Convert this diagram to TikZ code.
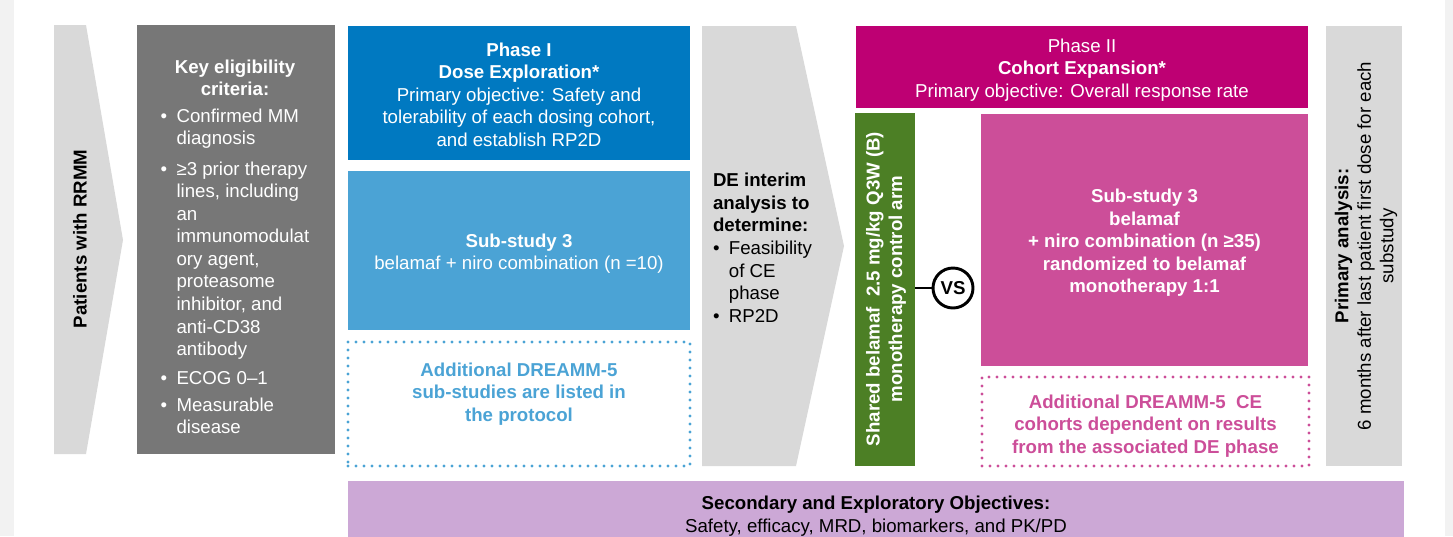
\documentclass[tikz,border=0pt]{standalone}
\usepackage{fontspec}
\setmainfont{Liberation Sans}

\definecolor{chevgray}{HTML}{D9D9D9}
\definecolor{critgray}{HTML}{777777}
\definecolor{stripgray}{HTML}{F2F2F2}
\definecolor{deblue}{HTML}{0079C1}
\definecolor{subblue}{HTML}{4BA3D5}
\definecolor{cemagenta}{HTML}{BE0073}
\definecolor{cepink}{HTML}{CC4E99}
\definecolor{armgreen}{HTML}{4C7F25}
\definecolor{seclilac}{HTML}{CCA8D6}

\tikzset{
  txt/.style={font=\fontsize{14}{16.9}\selectfont, inner sep=0pt, outer sep=0pt, align=center},
  btxt/.style={txt, font=\fontsize{14}{16.9}\selectfont\bfseries},
  blk/.style 2 args={minimum width=#1*0.75pt, minimum height=#2*0.75pt},
  panel/.style={inner sep=0pt, outer sep=0pt, fill=#1},
  dotbox/.style={draw=#1, line width=2.5pt, line cap=round, dash pattern=on 0pt off 6pt, inner sep=0pt},
}

\begin{document}
\begin{tikzpicture}[x=0.75pt, y=-0.75pt]
\useasboundingbox (0,0) rectangle (1453,536);
\fill[stripgray] (0,0) rectangle (14,536);
\fill[stripgray] (1445,0) rectangle (1453,536);

% entry chevron and eligibility
\fill[chevgray] (54,25) -- (86,25) -- (123,240) -- (86,454) -- (54,454) -- cycle;
\node[btxt, rotate=90] (pts) at (80,239) {Patients with RRMM};
\node[panel=critgray, blk={198}{429}] (elig) at (236,239.5) {};
\node[txt, text=white] (crit) at (235,249) {%
  \begin{tabular}{@{}l@{\hspace{7pt}}l@{}}
  \multicolumn{2}{@{}c@{}}{\bfseries Key eligibility}\\
  \multicolumn{2}{@{}c@{}}{\bfseries criteria:}\\[3pt]
  • & Confirmed MM\\
    & diagnosis\\[6pt]
  • & ≥3 prior therapy\\
    & lines, including\\
    & an\\
    & immunomodulat\\
    & ory agent,\\
    & proteasome\\
    & inhibitor, and\\
    & anti-CD38\\
    & antibody\\[5pt]
  • & ECOG 0–1\\[3pt]
  • & Measurable\\
    & disease
  \end{tabular}};

% dose exploration column
\node[panel=deblue, blk={342}{134}] (dose) at (519,93) {};
\node[txt, text=white] (dosetxt) at (519,94.5)
  {\textbf{Phase I}\\\textbf{Dose Exploration*}\\Primary objective: Safety and\\tolerability of each dosing cohort,\\and establish RP2D};
\node[panel=subblue, blk={342}{159}] (sub3) at (519,250.5) {};
\node[txt, text=white] (sub3txt) at (519,253.5)
  {\textbf{Sub-study 3}\\belamaf + niro combination (n =10)};
\node[dotbox=subblue, blk={342}{124}] (more) at (519,404) {};
\node[btxt, text=subblue] (moretxt) at (519,394)
  {Additional DREAMM-5\\sub-studies are listed in\\the protocol};

% interim analysis chevron
\fill[chevgray] (702,26) -- (796,26) -- (844,246) -- (796,466) -- (702,466) -- cycle;
\node[txt, anchor=west] (interim) at (713,250) {%
  \begin{tabular}{@{}l@{\hspace{7pt}}l@{}}
  \multicolumn{2}{@{}l@{}}{\bfseries DE interim}\\
  \multicolumn{2}{@{}l@{}}{\bfseries analysis to}\\
  \multicolumn{2}{@{}l@{}}{\bfseries determine:}\\
  • & Feasibility\\
    & of CE\\
    & phase\\
  • & RP2D
  \end{tabular}};

% cohort expansion
\node[panel=cemagenta, blk={452}{82}] (ce) at (1082,67) {};
\node[txt, text=white] (cetxt) at (1082,70)
  {Phase II\\\textbf{Cohort Expansion*}\\Primary objective: Overall response rate};
\node[panel=armgreen, blk={60}{353}] (arm) at (885,289.5) {};
\node[btxt, text=white, rotate=90] (armtxt) at (886,289)
  {Shared belamaf\ \ 2.5 mg/kg Q3W (B)\\monotherapy control arm};
\node[panel=cepink, blk={327}{252}] (rand) at (1144.5,240) {};
\node[btxt, text=white] (randtxt) at (1144.5,243)
  {Sub-study 3\\belamaf\\+ niro combination (n ≥35)\\randomized to belamaf\\monotherapy 1:1};
\node[dotbox=cepink, blk={327}{89}] (morece) at (1145.5,421.5) {};
\node[btxt, text=cepink] (morecetxt) at (1145.5,426)
  {Additional DREAMM-5\ \ CE\\cohorts dependent on results\\from the associated DE phase};
\node[btxt, circle, draw, line width=2.2pt, fill=white, minimum size=30pt] (vs) at (953,288) {VS};
\draw[line width=2.2pt] (arm.east |- vs) -- (vs);

% primary analysis and secondary objectives
\node[panel=chevgray, blk={76}{440}] (prim) at (1364,246) {};
\node[txt, rotate=90] (primtxt) at (1366,246)
  {\textbf{Primary analysis:}\\6 months after last patient first dose for each\\substudy};
\node[panel=seclilac, blk={1056}{64}] (sec) at (876,513) {};
\node[txt] (sectxt) at (876,516)
  {\textbf{Secondary and Exploratory Objectives:}\\Safety, efficacy, MRD, biomarkers, and PK/PD};
\end{tikzpicture}
\end{document}
